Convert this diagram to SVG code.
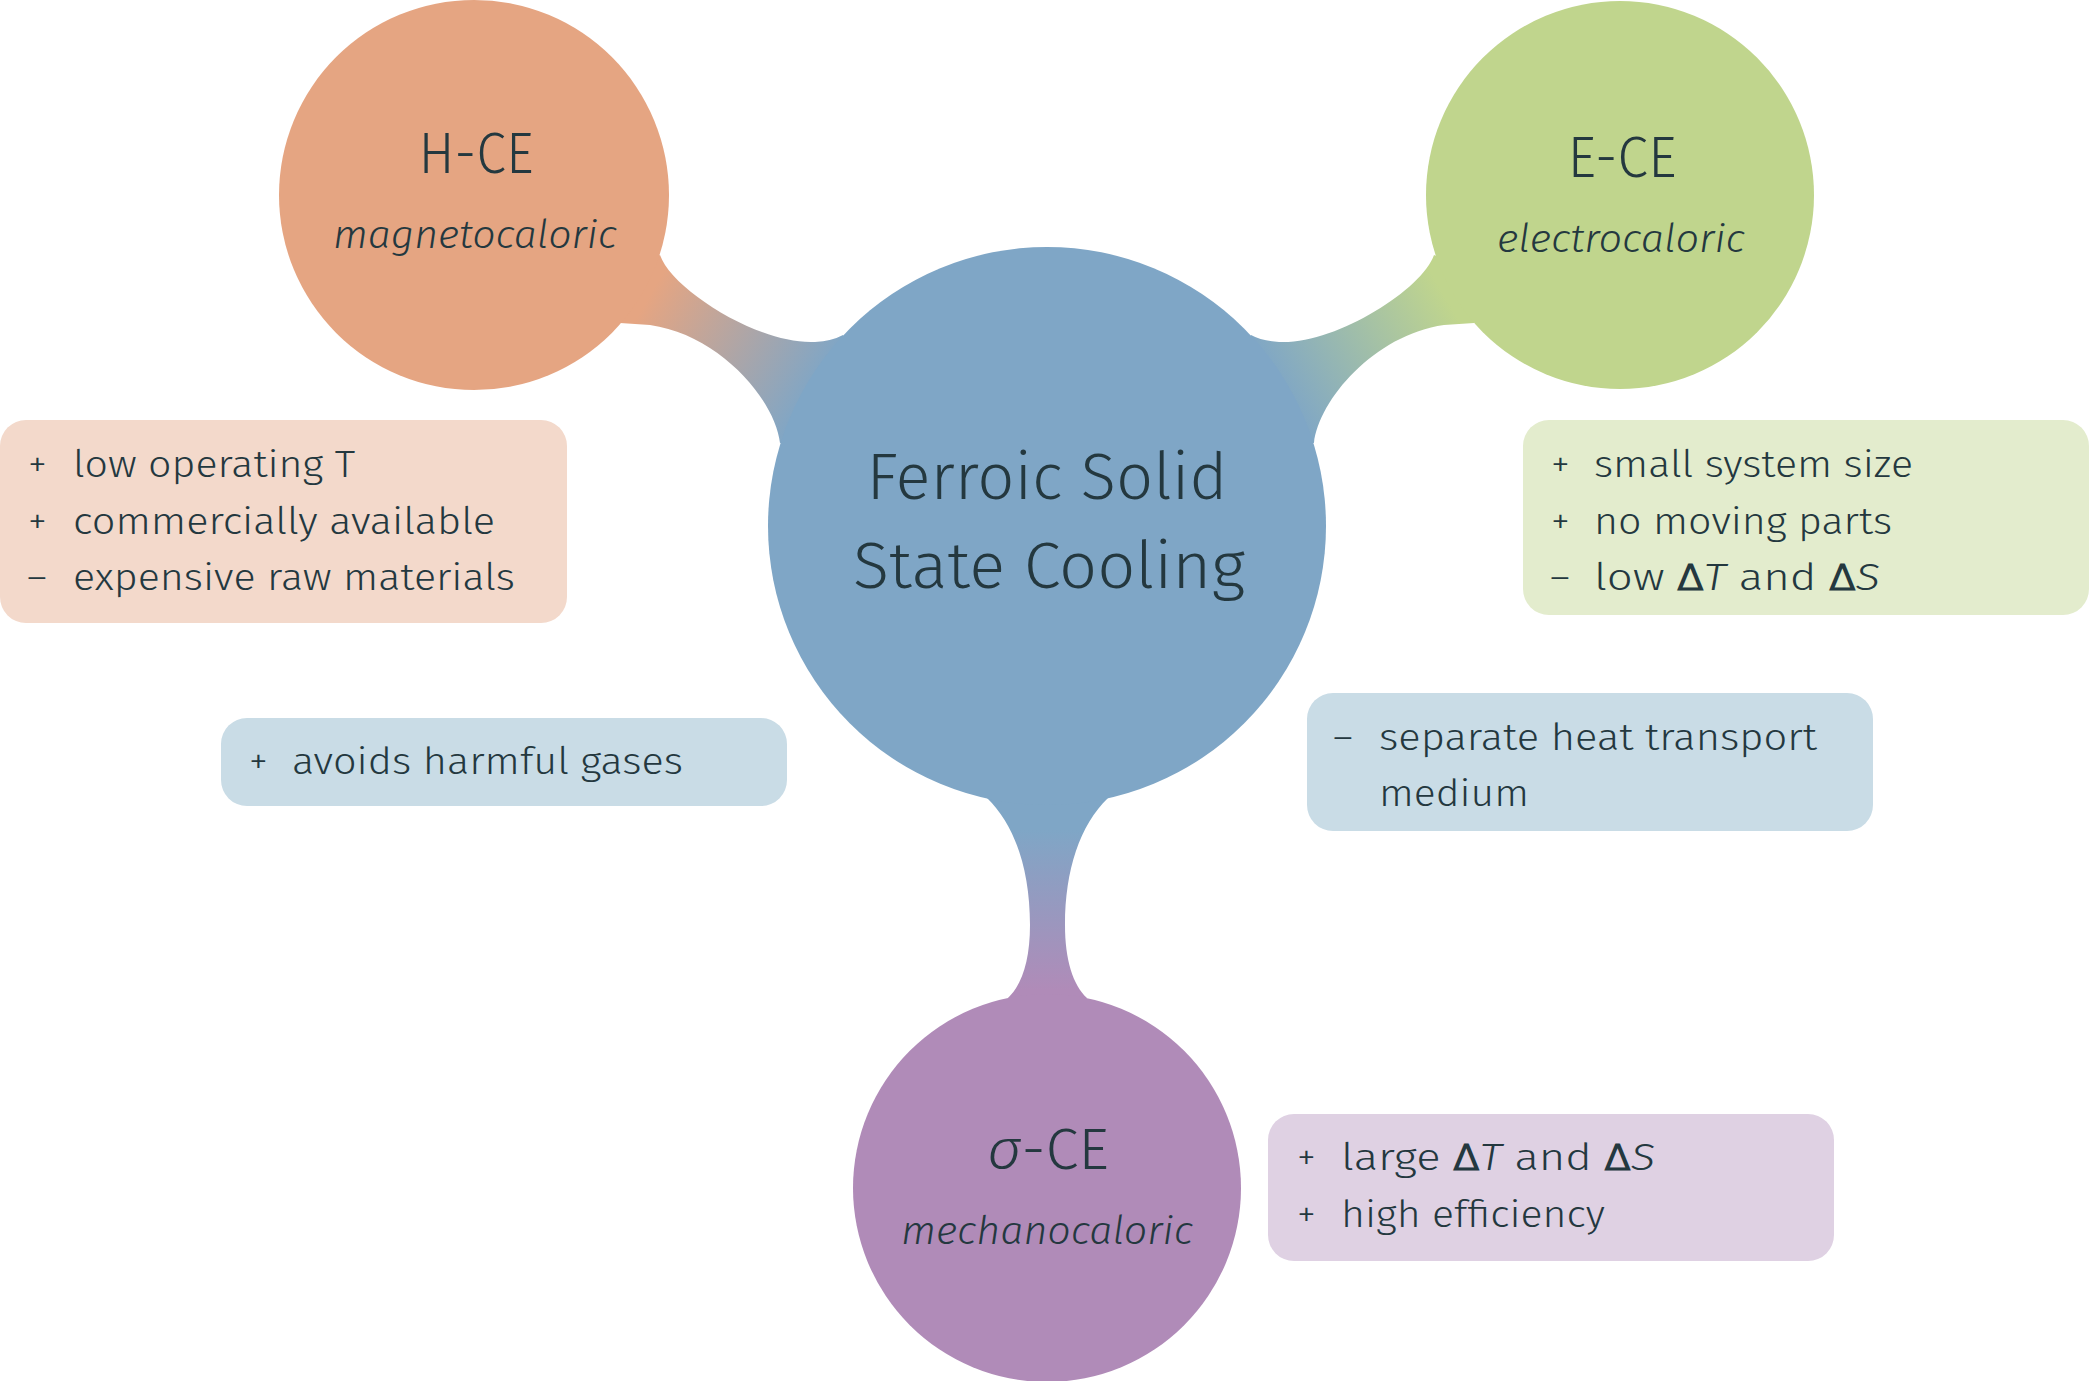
<svg xmlns="http://www.w3.org/2000/svg" width="2089" height="1381" viewBox="0 0 2089 1381">
<defs>
<linearGradient id="gH" gradientUnits="userSpaceOnUse" x1="650" y1="295" x2="815" y2="390"><stop offset="0" stop-color="#E5A582"/><stop offset="1" stop-color="#7FA6C6"/></linearGradient>
<linearGradient id="gE" gradientUnits="userSpaceOnUse" x1="1444" y1="295" x2="1279" y2="390"><stop offset="0" stop-color="#C0D58D"/><stop offset="1" stop-color="#7FA6C6"/></linearGradient>
<linearGradient id="gS" gradientUnits="userSpaceOnUse" x1="0" y1="830" x2="0" y2="990"><stop offset="0" stop-color="#7FA6C6"/><stop offset="1" stop-color="#B08BB8"/></linearGradient>
<style>
text{font-family:"Fira Sans Light","Fira Sans",Lato,"Noto Sans","Liberation Sans",sans-serif;font-weight:300;fill:#24383F}
.t{font-size:38px}
.h{font-size:57px;text-anchor:middle}
.c{font-size:65px;text-anchor:middle}
.s{font-size:40px;font-style:italic;text-anchor:middle}
.i{font-style:italic}
.d{font-weight:600}
.bH{fill:#F3D9CB}.bE{fill:#E3ECCD}.bB{fill:#C9DCE6}.bS{fill:#DFD1E3}
</style>
</defs>
<rect width="2089" height="1381" fill="#FFFFFF"/>
<g id="connectors">
<path d="M660,255 C672,290 760,345 815,342 Q832,341 843,335 L900,430 L780,443 C775,400 720,335 650,325 L620,323 L600,280 Z" fill="url(#gH)"/>
<path d="M1434,255 C1422,290 1334,345 1279,342 Q1262,341 1251,335 L1194,430 L1314,443 C1319,400 1374,335 1444,325 L1474,323 L1494,280 Z" fill="url(#gE)"/>
<path d="M987,798 C1015,825 1030,870 1030,925 C1030,960 1022,985 1008,998 L1047,1050 L1087,998 C1073,985 1065,960 1065,925 C1065,870 1080,825 1108,798 L1047,760 Z" fill="url(#gS)"/>
</g>
<g id="center">
<circle cx="1047" cy="526" r="279" fill="#7FA6C6"/>
<text class="c" x="1047" y="499" textLength="361" lengthAdjust="spacingAndGlyphs">Ferroic Solid</text>
<text class="c" x="1049" y="588" textLength="392" lengthAdjust="spacingAndGlyphs">State Cooling</text>
</g>
<g id="hce">
<circle cx="474" cy="195" r="195" fill="#E5A582"/>
<text class="h" x="476" y="173" textLength="115" lengthAdjust="spacingAndGlyphs">H-CE</text>
<text class="s" x="475" y="248" textLength="284" lengthAdjust="spacingAndGlyphs">magnetocaloric</text>
</g>
<g id="ece">
<circle cx="1620" cy="195" r="194" fill="#C0D58D"/>
<text class="h" x="1622" y="177" textLength="109" lengthAdjust="spacingAndGlyphs">E-CE</text>
<text class="s" x="1621" y="252" textLength="248" lengthAdjust="spacingAndGlyphs">electrocaloric</text>
</g>
<g id="sce">
<circle cx="1047" cy="1188" r="194" fill="#B08BB8"/>
<text class="h" x="1048" y="1169" textLength="122" lengthAdjust="spacingAndGlyphs"><tspan class="i">σ</tspan>-CE</text>
<text class="s" x="1047" y="1244" textLength="292" lengthAdjust="spacingAndGlyphs">mechanocaloric</text>
</g>
<g id="box-hce">
<rect class="bH" x="0" y="420" width="567" height="203" rx="26"/>
<text class="t" x="28" y="477">+</text>
<text class="t" x="73" y="477" textLength="282" lengthAdjust="spacingAndGlyphs">low operating T</text>
<text class="t" x="28" y="534">+</text>
<text class="t" x="73" y="534" textLength="422" lengthAdjust="spacingAndGlyphs">commercially available</text>
<text class="t" x="27" y="590">–</text>
<text class="t" x="73" y="590" textLength="442" lengthAdjust="spacingAndGlyphs">expensive raw materials</text>
</g>
<g id="box-ece">
<rect class="bE" x="1523" y="420" width="566" height="195" rx="26"/>
<text class="t" x="1551" y="477">+</text>
<text class="t" x="1594" y="477" textLength="319" lengthAdjust="spacingAndGlyphs">small system size</text>
<text class="t" x="1551" y="534">+</text>
<text class="t" x="1594" y="534" textLength="298" lengthAdjust="spacingAndGlyphs">no moving parts</text>
<text class="t" x="1550" y="590">–</text>
<text class="t" x="1594" y="590" textLength="286" lengthAdjust="spacingAndGlyphs">low <tspan class="d">Δ</tspan><tspan class="i">T</tspan> and <tspan class="d">Δ</tspan><tspan class="i">S</tspan></text>
</g>
<g id="box-center-pro">
<rect class="bB" x="221" y="718" width="566" height="88" rx="26"/>
<text class="t" x="249" y="774">+</text>
<text class="t" x="292" y="774" textLength="391" lengthAdjust="spacingAndGlyphs">avoids harmful gases</text>
</g>
<g id="box-center-con">
<rect class="bB" x="1307" y="693" width="566" height="138" rx="26"/>
<text class="t" x="1333" y="750">–</text>
<text class="t" x="1379" y="750" textLength="438" lengthAdjust="spacingAndGlyphs">separate heat transport</text>
<text class="t" x="1379" y="806" textLength="150" lengthAdjust="spacingAndGlyphs">medium</text>
</g>
<g id="box-sce">
<rect class="bS" x="1268" y="1114" width="566" height="147" rx="26"/>
<text class="t" x="1297" y="1170">+</text>
<text class="t" x="1341" y="1170" textLength="314" lengthAdjust="spacingAndGlyphs">large <tspan class="d">Δ</tspan><tspan class="i">T</tspan> and <tspan class="d">Δ</tspan><tspan class="i">S</tspan></text>
<text class="t" x="1297" y="1227">+</text>
<text class="t" x="1341" y="1227" textLength="264" lengthAdjust="spacingAndGlyphs">high efficiency</text>
</g>
</svg>
